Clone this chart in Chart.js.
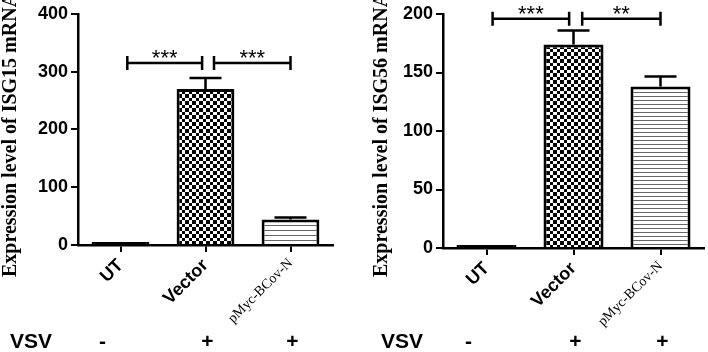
<!DOCTYPE html>
<html>
<head>
<title>ISG15 / ISG56 expression</title>
<script src="https://cdn.jsdelivr.net/npm/chart.js"></script>
<style>
  body { margin: 0; background: #fff; }
  .panel { position: absolute; top: 0; width: 354px; height: 352px; }
</style>
</head>
<body>
<div class="panel" style="left:0"><canvas id="isg15Chart" width="354" height="352"></canvas></div>
<div class="panel" style="left:354px"><canvas id="isg56Chart" width="354" height="352"></canvas></div>

<script>
  const categories = ['UT', 'Vector', 'pMyc-BCov-N'];
  const vsvSigns = ['-', '+', '+'];

  const isg15Means = [1, 270, 44];
  const isg15Errors = [0.3, 19, 3.5];
  const isg15Ticks = [0, 100, 200, 300, 400];
  // [from index, to index, height, stars]
  const isg15Brackets = [[0.08, 0.96, 315, '***'], [1.1, 2.0, 315, '***']];

  const isg56Means = [1, 174, 138];
  const isg56Errors = [0.3, 12, 8.5];
  const isg56Ticks = [0, 50, 100, 150, 200];
  const isg56Brackets = [[0.07, 0.95, 196, '***'], [1.1, 2.0, 196, '**']];

  Chart.defaults.font.family = '"Liberation Sans", Arial, sans-serif';
  Chart.defaults.color = '#000';

  function checkerPattern() {
    // cells of 3 and 4 px alternating, about 3.5 px on average
    const edges = [0, 3, 7, 10, 14];
    const c = document.createElement('canvas');
    c.width = 14; c.height = 14;
    const g = c.getContext('2d');
    g.fillStyle = '#fff'; g.fillRect(0, 0, 14, 14);
    g.fillStyle = '#000';
    for (let r = 0; r < 4; r++) {
      for (let k = 0; k < 4; k++) {
        if ((r + k) % 2 === 0) g.fillRect(edges[k], edges[r], edges[k + 1] - edges[k], edges[r + 1] - edges[r]);
      }
    }
    return g.createPattern(c, 'repeat');
  }

  function stripePattern(period) {
    const c = document.createElement('canvas');
    c.width = 8; c.height = period;
    const g = c.getContext('2d');
    g.fillStyle = '#fff'; g.fillRect(0, 0, 8, period);
    g.fillStyle = '#666'; g.fillRect(0, 0, 8, 1);
    return g.createPattern(c, 'repeat');
  }

  function extrasPlugin(means, errors, brackets, title, titleX, vsvX) {
    return {
      id: 'extras',
      afterDatasetsDraw(chart) {
        const ctx = chart.ctx, x = chart.scales.x, y = chart.scales.y;
        ctx.save();
        ctx.strokeStyle = '#000';
        ctx.fillStyle = '#000';
        ctx.lineWidth = 2.5;
        // upper error bars
        means.forEach((m, i) => {
          if (errors[i] < 1) return;
          const cx = x.getPixelForValue(i);
          const y0 = y.getPixelForValue(m), y1 = y.getPixelForValue(m + errors[i]);
          ctx.beginPath();
          ctx.moveTo(cx, y0); ctx.lineTo(cx, y1);
          ctx.moveTo(cx - 16, y1); ctx.lineTo(cx + 16, y1);
          ctx.stroke();
        });
        // significance brackets
        ctx.font = '22px "Liberation Sans"';
        ctx.textAlign = 'center';
        ctx.textBaseline = 'alphabetic';
        brackets.forEach(([a, b, v, stars]) => {
          const xa = x.getPixelForValue(a), xb = x.getPixelForValue(b), yy = y.getPixelForValue(v);
          ctx.beginPath();
          ctx.moveTo(xa, yy); ctx.lineTo(xb, yy);
          ctx.moveTo(xa, yy - 7); ctx.lineTo(xa, yy + 7);
          ctx.moveTo(xb, yy - 7); ctx.lineTo(xb, yy + 7);
          ctx.stroke();
          ctx.fillText(stars, (xa + xb) / 2, yy + 2);
        });
        ctx.restore();
      },
      afterDraw(chart) {
        const ctx = chart.ctx, x = chart.scales.x;
        ctx.save();
        ctx.fillStyle = '#000';
        // VSV row
        ctx.font = 'bold 21px "Liberation Sans"';
        ctx.textBaseline = 'middle';
        ctx.textAlign = 'left';
        ctx.fillText('VSV', vsvX, 342);
        ctx.textAlign = 'center';
        vsvSigns.forEach((s, i) => {
          const off = s === '-' ? -18 : 2;
          ctx.fillText(s, x.getPixelForValue(i) + off, 342);
        });
        // y axis title
        ctx.font = 'bold 20px "Liberation Serif"';
        ctx.translate(titleX, 277);
        ctx.rotate(-Math.PI / 2);
        ctx.textAlign = 'left';
        ctx.textBaseline = 'alphabetic';
        ctx.fillText(title, 0, 0);
        ctx.restore();
      }
    };
  }

  function createChart(id, cfg) {
    const ctx = document.getElementById(id).getContext('2d');
    return new Chart(ctx, {
      type: 'bar',
      data: {
        labels: categories,
        datasets: [{
          data: cfg.means,
          backgroundColor: ['#000', checkerPattern(), stripePattern(cfg.stripe)],
          borderColor: '#000',
          borderWidth: 3,
          borderSkipped: 'bottom',
          minBarLength: 3,
          barPercentage: cfg.barPct,
          categoryPercentage: 1
        }]
      },
      options: {
        responsive: false,
        animation: false,
        devicePixelRatio: 1,
        layout: { padding: { top: cfg.top, right: cfg.right, bottom: 0, left: 0 } },
        plugins: { legend: { display: false }, tooltip: { enabled: false } },
        scales: {
          x: {
            offset: true,
            grid: { display: true, offset: false, drawOnChartArea: false, drawTicks: true, tickLength: 7, color: '#000', lineWidth: 2 },
            border: { display: true, color: '#000', width: 2.5 },
            ticks: {
              autoSkip: false,
              minRotation: 45,
              maxRotation: 45,
              padding: 3,
              color: '#000',
              font: c => c.index === 2
                ? { family: '"Liberation Serif"', size: 14, weight: 'normal' }
                : { family: '"Liberation Sans"', size: 18, weight: 'bold' }
            },
            afterFit: s => { s.height = 352 - cfg.bottom; }
          },
          y: {
            min: cfg.ticks[0],
            max: cfg.ticks[cfg.ticks.length - 1],
            grid: { display: true, drawOnChartArea: false, drawTicks: true, tickLength: 7, color: '#000', lineWidth: 2 },
            border: { display: true, color: '#000', width: 2.5 },
            ticks: {
              stepSize: cfg.ticks[1] - cfg.ticks[0],
              padding: 3,
              color: '#000',
              font: { family: '"Liberation Sans"', size: 18, weight: 'bold' }
            },
            afterFit: s => { s.width = cfg.left; }
          }
        }
      },
      plugins: [extrasPlugin(cfg.means, cfg.errors, cfg.brackets, cfg.title, cfg.titleX, cfg.vsvX)]
    });
  }

  createChart('isg15Chart', {
    means: isg15Means, errors: isg15Errors, brackets: isg15Brackets, ticks: isg15Ticks,
    title: 'Expression level of ISG15 mRNA', titleX: 16, vsvX: 10,
    left: 78, right: 21, top: 12, bottom: 245, barPct: 0.68, stripe: 5
  });

  createChart('isg56Chart', {
    means: isg56Means, errors: isg56Errors, brackets: isg56Brackets, ticks: isg56Ticks,
    title: 'Expression level of ISG56 mRNA', titleX: 33, vsvX: 27,
    left: 89, right: 4, top: 14, bottom: 248, barPct: 0.69, stripe: 4
  });
</script>
</body>
</html>
